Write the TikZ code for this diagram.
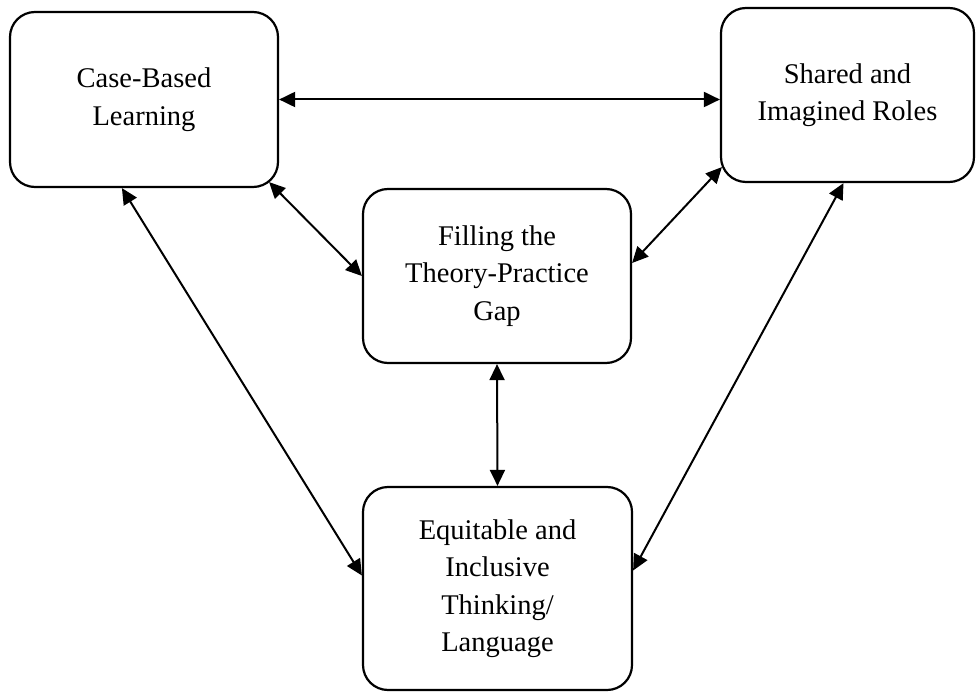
\documentclass[tikz,border=0pt]{standalone}
\usepackage{fontspec}
\setmainfont{Liberation Serif}
\usetikzlibrary{arrows.meta, calc}

\tikzset{
  caja/.style={draw, line width=2.2pt, rounded corners=25pt, align=center,
               inner sep=0pt, font=\fontsize{28.5}{37.5}\selectfont},
  flecha/.style={line width=2pt,
                 {Triangle[length=16pt,width=15pt]}-{Triangle[length=16pt,width=15pt]}}
}

\begin{document}
\begin{tikzpicture}[x=1pt, y=-1pt]
  \useasboundingbox (0,0) rectangle (976,692);
  \foreach \nombre/\x/\y/\w/\h/\texto in {
      cbl/144/99.5/268/175/{Case-Based\\Learning},
      roles/847.5/95/253/174/{Shared and\\Imagined Roles},
      brecha/497/276/268/174/{Filling the\\Theory-Practice\\Gap},
      equidad/497.5/588.5/269/203/{Equitable and\\Inclusive\\Thinking/\\Language}} {
    \node[caja, minimum width=\w pt, minimum height=\h pt] (\nombre) at (\x,\y) {\texto};
  }
  \draw[flecha] (cbl.east) -- (cbl.east -| roles.west);
  \draw[flecha] ($(cbl.south east)+(-10,-6)$) -- (brecha.west);
  \draw[flecha] ($(roles.south west)+(2,-16)$) -- ($(brecha.east)+(0,-13)$);
  \draw[flecha] (brecha.south) -- (equidad.north);
  \draw[flecha] ($(cbl.south west)+(113,0)$) -- ($(equidad.west)+(0,-13)$);
  \draw[flecha] ($(roles.south)+(-4,0)$) -- ($(equidad.east)+(0,-18)$);
\end{tikzpicture}
\end{document}
